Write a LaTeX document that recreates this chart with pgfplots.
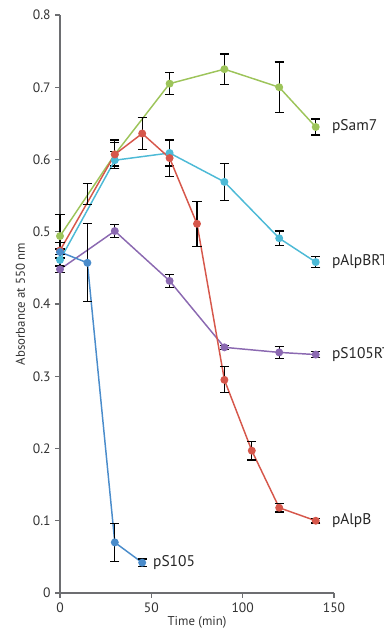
\documentclass[border=0pt]{standalone}
\usepackage{pgfplots}
\pgfplotsset{compat=1.18}
\usepackage{fontspec}
\setmainfont{PT Sans}
\definecolor{cgreen}{HTML}{9DC45A}
\definecolor{cred}{HTML}{D6574B}
\definecolor{ccyan}{HTML}{4DBAD6}
\definecolor{cpurple}{HTML}{8B69B1}
\definecolor{cblue}{HTML}{4A8CCB}
\definecolor{axgray}{HTML}{6D6E71}
\begin{document}
\begin{tikzpicture}[x=1pt,y=1pt]
\begin{axis}[
  at={(0,0)}, anchor=south west,
  scale only axis, width=205.5pt, height=433.5pt,
  xmin=0, xmax=150, ymin=0, ymax=0.8,
  axis x line*=bottom, axis y line*=left,
  axis line style={axgray, line width=0.9pt},
  every tick/.style={axgray, line width=0.9pt},
  tick align=outside, major tick length=3.5pt,
  xtick={0,50,100,150}, ytick={0,0.1,...,0.8},
  yticklabels={0,0.1,0.2,0.3,0.4,0.5,0.6,0.7,0.8},
  /pgf/number format/assume math mode=true,
  ticklabel style={font=\fontsize{10.2}{11}\selectfont, text=black!80},
  xlabel={Time (min)}, ylabel={Absorbance at 550 nm},
  label style={font=\fontsize{9.6}{10}\selectfont, text=black!80},
  xlabel style={yshift=4pt}, ylabel style={yshift=-1pt},
  clip=false,
  every axis plot/.append style={line width=1.1pt, mark=*, mark size=2.4pt},
  error bars/y dir=both, error bars/y explicit,
  error bars/error bar style={black, line width=0.9pt},
  error bars/error mark options={rotate=90, black, line width=0.9pt, mark size=3.4pt},
]
% pSam7 (green)
\addplot[cgreen, mark options={fill=cgreen, draw=cgreen}] coordinates {
  (0,0.494) +- (0,0.030)
  (30,0.607) +- (0,0.016)
  (60,0.705) +- (0,0.015)
  (90,0.725) +- (0,0.021)
  (120,0.700) +- (0,0.035)
  (140,0.645) +- (0,0.011)
};
% pAlpBRT (cyan)
\addplot[ccyan, mark options={fill=ccyan, draw=ccyan}] coordinates {
  (0,0.461) +- (0,0.008)
  (30,0.599) +- (0,0.012)
  (60,0.609) +- (0,0.018)
  (90,0.569) +- (0,0.026)
  (120,0.491) +- (0,0.010)
  (140,0.458) +- (0,0.008)
};
% pS105RT (purple)
\addplot[cpurple, mark options={fill=cpurple, draw=cpurple}] coordinates {
  (0,0.448) +- (0,0.004)
  (30,0.501) +- (0,0.009)
  (60,0.432) +- (0,0.009)
  (90,0.340) +- (0,0.003)
  (120,0.333) +- (0,0.008)
  (140,0.330) +- (0,0.004)
};
% pAlpB (red)
\addplot[cred, mark options={fill=cred, draw=cred}] coordinates {
  (0,0.474) +- (0,0.011)
  (30,0.607) +- (0,0.020)
  (45,0.636) +- (0,0.022)
  (60,0.602) +- (0,0.026)
  (75,0.511) +- (0,0.031)
  (90,0.295) +- (0,0.018)
  (105,0.197) +- (0,0.013)
  (120,0.118) +- (0,0.006)
  (140,0.100) +- (0,0.003)
};
% error bar at 15 min (no marker)
\addplot[draw=none, mark=none, forget plot] coordinates {
  (15,0.5525) +- (0,0.0145)
};
% pS105 (blue)
\addplot[cblue, mark options={fill=cblue, draw=cblue}] coordinates {
  (0,0.472) +- (0,0.004)
  (15,0.457) +- (0,0.054)
  (30,0.070) +- (0,0.026)
  (45,0.042) +- (0,0.005)
};
\begin{scope}[every node/.style={anchor=west, inner sep=0pt, font=\fontsize{11.6}{12}\selectfont, text=black!85}]
\node at (axis cs:140,0.6455) [xshift=12pt] {pSam7};
\node at (axis cs:140,0.4585) [xshift=12pt] {pAlpBRT};
\node at (axis cs:140,0.330) [xshift=12pt] {pS105RT};
\node at (axis cs:140,0.100) [xshift=12pt] {pAlpB};
\node at (axis cs:45,0.042) [xshift=8pt] {pS105};
\end{scope}
\end{axis}
\pgfresetboundingbox
\path[use as bounding box] (-45pt,-28.5pt) rectangle (243pt,444.75pt);
\end{tikzpicture}
\end{document}
